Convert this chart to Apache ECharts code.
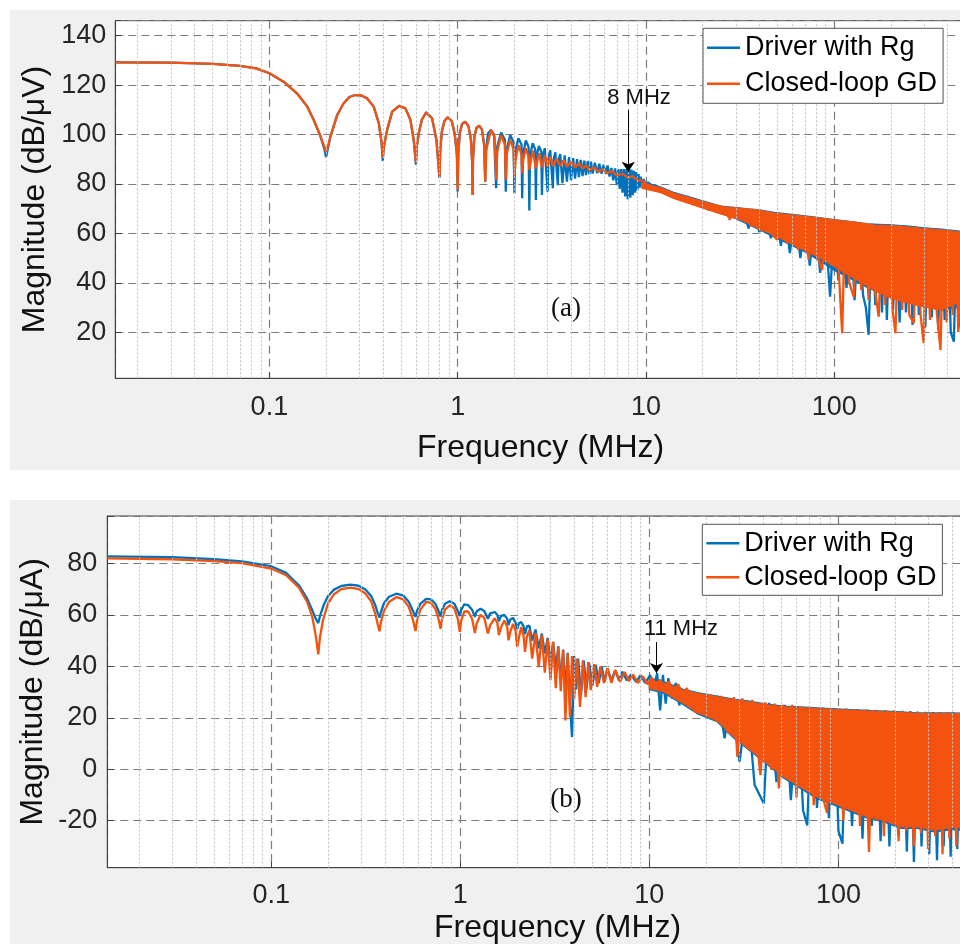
<!DOCTYPE html>
<html><head><meta charset="utf-8">
<script src="https://cdn.jsdelivr.net/npm/echarts@6/dist/echarts.min.js"></script>
<style>html,body{margin:0;padding:0;background:#fff}#c{width:960px;height:944px}</style>
</head><body><div id="c"></div>
<script>
// ---------- tick labels / grid values ----------
const xTickLabels = [0.1, 1, 10, 100];
const minorX = [0.02,0.03,0.04,0.05,0.06,0.07,0.08,0.09,0.2,0.3,0.4,0.5,0.6,0.7,0.8,0.9,2,3,4,5,6,7,8,9,20,30,40,50,60,70,80,90,200,300,400,500,600,700];
const seriesNames = ['Driver with Rg', 'Closed-loop GD'];

// ---------- panel (a): [frequency MHz, dB/uV] ----------
const aBlue = [[0.0152,129.2],[0.03,129.1],[0.05,128.6],[0.07,127.8],[0.085,126.8],[0.1,124.8],[0.119,121.4],[0.14,116.7],[0.159,111.3],[0.172,105.9],[0.187,99.2],[0.196,94],[0.2,90.8],[0.204,94],[0.211,99.2],[0.229,107.9],[0.248,112.7],[0.266,115.2],[0.286,116.0],[0.308,115.8],[0.33,114.7],[0.358,111.3],[0.381,104.6],[0.394,97],[0.4,89.3],
[0.405,95],[0.422,101.9],[0.449,109.3],[0.489,111.6],[0.528,110.6],[0.561,105.9],[0.584,97.8],[0.6,87.8],
[0.606,95],[0.621,100.5],[0.645,106],[0.68,109],[0.731,106.6],[0.771,97.8],[0.8,82.5],
[0.808,94],[0.825,101.5],[0.85,105.5],[0.885,107],[0.93,105.5],[0.965,100],[0.99,92],[1.0,77],
[1.007,92],[1.025,100.5],[1.055,104.3],[1.095,105.2],[1.14,103.5],[1.175,98],[1.195,88],[1.2,75.6],
[1.206,90],[1.225,99],[1.26,102.8],[1.3,103.6],[1.345,102],[1.38,96],[1.4,80.9],
[1.41,93],[1.45,100.5],[1.5,101.9],[1.56,100],[1.6,78.3],
[1.62,95],[1.7,100.8],[1.78,98],[1.8,76.9],
[1.82,94],[1.9,99.8],[1.98,97],[2.0,76.3],
[2.02,93],[2.1,98.5],[2.18,96],[2.2,74.2],
[2.22,92],[2.3,97.6],[2.38,95],[2.4,69.3],
[2.42,91],[2.5,96.5],[2.58,94],[2.6,73.5],
[2.62,91],[2.7,95.4],[2.78,93],[2.8,75.6],
[2.83,91],[2.9,94.5],[3.0,76.9],[3.03,90.5],[3.1,93.6],[3.2,78.3],[3.23,90],[3.3,92.8],[3.4,79.5],[3.43,89.5],[3.5,92.1],[3.6,80.3],
[3.7,91.6],[3.8,81.0],[3.9,90.9],[4.0,81.6],[4.1,90.5],[4.2,82.2],[4.3,90.1],[4.4,82.8],[4.5,89.8],[4.6,83.2],[4.7,89.5],[4.8,83.6],[4.9,89.3],[5.0,83.9],[5.1,89.0],[5.2,84.2],[5.35,88.6],[5.5,84.4],[5.65,88.2],[5.8,84.2],[5.95,87.8],[6.1,84.0],[6.25,87.5],[6.4,83.0],[6.55,86.5],[6.7,81.5],[6.85,86.3],[7.0,79.5],[7.12,86],[7.25,78],[7.37,86],[7.5,76.5],[7.62,86],[7.75,75],[7.87,86],[8.0,73.8],[8.12,86],[8.25,74.5],[8.37,85.8],[8.5,75.5],[8.62,85.3],[8.75,76.5],[8.87,84.8],[9.0,77.5],[9.12,84],[9.25,78.5],[9.37,83],[9.5,79.5],[9.7,82],[9.9,80.3],
[10.3,80.6],[10.8,78.8],[11.4,79.2],[12,77.2],[12.7,77.6],[13.4,75.8],[14.2,76.3],[15,74.6],[16,75],[17,72.8],[18,73.8],[19,71.5],[20,72.8],[21.5,69.5],[23,71.6],[24.5,68.5],[26,70.8],[27.5,66.5],[29,70.6],[31,65.5],[33,70],[35,62],[37,69.5],[40,60.5],[43,68.8],[46,58],[49,68.5],[52,55],[55,67.8],[58,52],[62,67.5],[66,50],[70,67],[74,47],[79,66.5],[84,44],[89,66],[94.9,34.4],[100,65.6],[105,41],[110,65],[116,38],[122,64.6],[128,33],[135,64.2],[142,35],[147,30],[152,19],[158,63.9],[165,31],[172,63.7],[179,28],[185,63.6],[190,25],[197,63.5],[205,29],[213,63.4],[222,24],[231,63.2],[240,28],[250,63],[260,23],[270,62.8],[281,27],[292,62.5],[304,22],[316,62.2],[329,26],[342,62],[356,21],[370,61.7],[385,25],[400,61.5],[415,20],[431,16.2],[446,61.2],[462,22],[480,61],[500,28]];

const aOrange = [[0.0152,129.2],[0.03,129.1],[0.05,128.6],[0.07,127.8],[0.085,126.8],[0.1,124.8],[0.119,121.4],[0.14,116.7],[0.159,111.3],[0.172,105.9],[0.187,99.2],[0.196,95],[0.2,92.8],[0.204,95],[0.211,99.2],[0.229,107.9],[0.248,112.7],[0.266,115.2],[0.286,116.0],[0.308,115.8],[0.33,114.7],[0.358,111.3],[0.381,104.6],[0.394,97],[0.4,90.8],
[0.405,95],[0.422,101.9],[0.449,109.3],[0.489,111.6],[0.528,110.6],[0.561,105.9],[0.584,97.8],[0.6,88.5],
[0.606,95],[0.621,100.5],[0.645,106],[0.68,109],[0.731,106.6],[0.771,97.8],[0.8,82.8],
[0.808,94],[0.825,101.5],[0.85,105.5],[0.885,107],[0.93,105.5],[0.965,100],[0.99,92],[1.0,77.6],
[1.007,92],[1.025,100.5],[1.055,104.3],[1.095,105.2],[1.14,103.5],[1.175,98],[1.195,88],[1.2,75.6],
[1.206,90],[1.225,99],[1.26,102.8],[1.3,103.6],[1.345,102],[1.38,96],[1.4,80.9],
[1.42,94],[1.5,101.9],[1.57,99],[1.6,81.6],
[1.62,93],[1.7,99.8],[1.78,96],[1.8,81.8],
[1.82,92],[1.9,98],[1.98,94],[2.0,82.5],
[2.03,90],[2.1,95.8],[2.18,92],[2.2,84.3],
[2.23,90],[2.3,94.5],[2.38,91],[2.4,85.7],
[2.5,93.6],[2.6,86.4],[2.7,92.5],[2.8,86.8],[2.9,91.7],[3.0,87.1],[3.1,91.1],[3.2,87.2],[3.35,90.3],[3.5,87.3],[3.65,89.6],[3.8,87.0],[4.0,89.0],[4.2,86.6],[4.4,88.4],[4.6,86.2],[4.8,87.6],[5.0,85.6],[5.3,86.8],[5.6,85.0],[5.9,86.0],[6.2,84.4],[6.6,85.2],[7.0,83.4],[7.5,84.2],[8.0,82.6],[8.5,83.2],[9.0,81.4],[9.5,81.6],[10,80],
[10.4,79.5],[11,78],[11.6,78.4],[12.3,76.5],[13,76.8],[13.8,75.2],[14.6,75.5],[15.5,73.8],[16.5,74.3],[17.5,72.3],[18.6,73.3],[19.8,71.2],[21,72.3],[22.4,69.6],[24,71.2],[25.5,68.2],[27,70.6],[27.8,65.5],[29.5,70.3],[31.5,66],[33.5,70],[36,63],[38.5,69.4],[41,61],[44,68.8],[47,59.5],[49.7,57.4],[52.5,68.2],[56,56],[60,67.6],[64,53.5],[68,67.2],[73.1,49.3],[78,66.8],[82,50],[86.1,45.2],[90,66.2],[96,47],[101,65.6],[106,42],[110,19.6],[114,65.2],[120,40],[126.7,34.4],[133,64.6],[139,37],[145,64.3],[152,33],[158,64],[165,36],[172,26.3],[179,63.6],[186,31],[194,63.4],[203,30],[211,19.6],[220,63.2],[229,29],[238,63],[250,27],[264,23.7],[275,62.7],[287,27],[298,15.6],[310,62.3],[322,25],[335,62],[350,28],[366,12.9],[380,61.5],[395,24],[410,61.2],[425,27],[440,61],[455,20],[472,60.8],[488,25],[500,40]];

// dense noise bands: [frequency, lower edge, upper edge]
const aBlueBand = [[10,79,80.6],[12,77,78.8],[14,75,76.6],[17,72.5,74.8],[20,70.5,73.2],[25,68,71.1],[30,66,70.5],[35,63.5,69.9],[40,61.5,69.5],[48,58.5,68.5],[58,55.5,67.8],[70,52.5,67.1],[85,48.5,66.3],[100,45,65.6],[120,42,64.9],[150,38,63.9],[200,34,63.5],[250,32,63],[300,30.5,62.3],[370,29,61.8],[450,30,61],[500,31,60.8]];
const aOrangeBand = [[9.5,78.3,80.3],[12,76.5,78.5],[14,74.2,76.3],[17,72,74.5],[20,70.2,72.9],[26,67.5,70.8],[32,65.5,70.2],[39,62.1,69.5],[48,59.4,68.2],[58,56,67.5],[72,52.6,66.8],[88,49.3,66],[107,45.2,65.2],[132,41.2,64.5],[162,37.1,63.4],[199,33.9,63.2],[244,31.9,62.7],[296,30.4,62],[366,29,61.5],[448,31.9,60.7],[500,32,60.5]];

// ---------- panel (b): [frequency MHz, dB/uA] ----------
const bBlue = [[0.0136,82.75],[0.03,82.4],[0.05,81.6],[0.07,80.8],[0.1,78.9],[0.12,76.3],[0.14,71.5],[0.155,66.3],[0.165,61.8],[0.172,58.5],[0.1775,56.8],[0.182,60],[0.19,64],[0.2,67.3],[0.215,69.8],[0.235,71.2],[0.263,71.7],[0.29,71.3],[0.315,69.8],[0.338,67.3],[0.355,63.8],[0.367,60.5],[0.374,58.9],
[0.38,61],[0.395,64.5],[0.42,67],[0.46,68.2],[0.5,67.5],[0.535,65],[0.56,61.8],[0.58,59.2],
[0.59,61.5],[0.615,64.3],[0.66,66.2],[0.7,66],[0.74,64.2],[0.77,61.2],[0.787,59.3],
[0.8,61.8],[0.83,64.3],[0.88,65.3],[0.93,64.3],[0.97,61.5],[0.995,59.5],
[1.01,61.8],[1.05,64.1],[1.1,63.8],[1.155,62],[1.195,59.2],
[1.22,61.3],[1.28,62.4],[1.34,61.5],[1.4,58.5],[1.44,60.6],[1.52,61.1],[1.57,60],[1.6,57.5],[1.64,59.5],[1.71,60],[1.77,58.5],[1.8,56],[1.84,58.2],[1.9,58.8],[1.96,57],[2.0,54.5],[2.04,56.6],[2.1,57.2],[2.16,55.5],[2.2,52.5],[2.25,55.5],[2.32,55.8],[2.4,50],[2.5,54.3],[2.6,47],[2.7,52.7],[2.8,45],[2.9,51],[3.0,42],[3.1,49.5],[3.2,39],[3.3,47.8],[3.4,34],[3.5,46.5],[3.6,30],[3.7,45.2],[3.8,26],[3.9,12.5],[4.0,44],[4.1,31],[4.2,43],[4.35,29],[4.5,42.2],[4.65,31],[4.8,41.4],[5.0,32.5],[5.2,40.6],[5.4,33.5],[5.6,39.8],[5.8,34],[6.0,39.2],[6.3,34.5],[6.6,38.5],[6.9,34.5],[7.2,37.9],[7.6,34.5],[8.0,36.8],[8.5,34],[9.0,36.5],[9.5,33.5],[10.1,36.6],[10.5,31],[11.0,37.4],[11.4,22.9],[11.8,36.7],[12.2,25.5],[12.6,35.4],[13.2,27.5],[13.8,33.5],[14.4,24.8],[15,31],[16,26],[17,29.5],[19,28.8],[21,22],[23,28.5],[25,12],[27,27.5],[30,3],[33,26.7],[36,-6],[40.3,-13.3],[43,25.8],[47,-5],[52,25],[56,-12],[61,24.5],[65,-16],[68.4,-21.8],[72,24.2],[77,-15],[83,24],[89,-19],[95,23.8],[100,-24],[105,-28.9],[110,23.6],[118,-22],[126,23.4],[134,-27],[142,23.2],[150,-22],[158,23],[167,-28],[176,22.9],[186,-30],[196,22.8],[207,-26],[218,22.7],[230,-32],[240,22.6],[250.6,-36],[262,22.4],[275,-30],[288,22.3],[302,-33],[316,22.2],[332,-35.4],[346,22.1],[360,-30],[376,22],[392,-34],[408,22],[425,-31],[442,22],[460,-35],[480,22],[500,10]];

const bOrange = [[0.0136,81.9],[0.03,81.6],[0.05,80.9],[0.07,80.1],[0.1,78.0],[0.12,75.4],[0.14,70.6],[0.155,65],[0.165,59.2],[0.172,52],[0.1775,44.6],[0.181,51],[0.188,58],[0.2,64.5],[0.215,68],[0.235,70],[0.263,70.6],[0.29,70],[0.315,68.3],[0.338,65.2],[0.355,60.5],[0.367,56],[0.374,53.6],
[0.38,57],[0.395,61.5],[0.42,65],[0.46,66.9],[0.5,66],[0.535,63],[0.56,58.5],[0.58,53.7],
[0.59,57.5],[0.615,62],[0.66,65],[0.7,64.6],[0.74,62.2],[0.77,58],[0.787,54.6],
[0.8,58],[0.83,62],[0.88,63.7],[0.93,62.5],[0.97,58.5],[0.995,53.4],
[1.01,57.5],[1.05,61.3],[1.1,61.3],[1.155,58.5],[1.195,52.9],
[1.22,56.5],[1.28,60],[1.34,58.8],[1.4,52.7],[1.44,56],[1.52,58.6],[1.57,57],[1.6,52.1],[1.64,55],[1.71,57.8],[1.77,55.5],[1.8,50.1],[1.84,53.5],[1.9,56.5],[1.96,54],[2.0,47.5],[2.04,51],[2.1,55.2],[2.16,52],[2.2,45.6],[2.25,51.5],[2.32,54],[2.4,43],[2.5,53],[2.6,39.7],[2.7,52.1],[2.8,37.5],[2.9,50.5],[3.0,34.6],[3.1,49.5],[3.2,31.5],[3.3,47.5],[3.4,30.3],[3.5,46.2],[3.6,19],[3.7,45],[3.8,20.3],[3.9,44],[4.0,27],[4.15,43],[4.3,24.2],[4.45,42.3],[4.6,28],[4.75,41.6],[4.9,30.7],[5.1,40.8],[5.3,32],[5.5,40],[5.75,33.5],[6.0,39.2],[6.3,33.5],[6.6,38.5],[7.0,34],[7.4,37.8],[7.8,34.2],[8.2,36.8],[8.7,33.5],[9.2,36.2],[9.8,33],[10.3,35.5],[10.8,32.5],[11.4,34.8],[12,31.5],[12.7,34],[13.4,30],[14.2,33],[15,29],[15.8,31.5],[16.5,27],[17.5,22],[18.5,29.5],[19.5,24.5],[21,29],[22.5,18.5],[24,28.5],[26,14],[28,28],[29.2,4.8],[31,27.5],[33,8],[35,27],[38.7,-2.3],[41,26],[44,0],[46,25.5],[48.4,-7.5],[51,25],[54,-4],[57,25],[60,-11],[63,24.5],[66,-8],[70,24.3],[74,-14],[78,24],[82,-10],[87,-17],[91,23.8],[96,-12],[101,23.6],[106,-20],[111,23.5],[117,-14],[123,23.3],[130,-22],[137,23.2],[145,-32.1],[152,23],[159,-20],[166,22.8],[174,-26],[182,22.8],[190,-21],[199,22.6],[208,-28],[218,22.5],[228,-24],[239,22.4],[250,-30],[261,22.2],[273,-25],[285,22.1],[298,-31],[311,22],[325,-26],[340,22],[355,-33],[370,22],[386,-27],[402,21.8],[420,-30],[438,21.8],[455,-28],[472,21.8],[490,-32],[500,10]];

const bBlueBand = [[10,31,35.5],[12,29.5,34],[15.2,25,31],[18,21.5,29.8],[22.8,18.5,28.4],[28,12,27.3],[34.3,7,26.4],[42,1.8,25.3],[51.4,-3.5,24.5],[63,-7.5,24.2],[77,-11.5,23.9],[95,-14,23.5],[116,-16.5,23.2],[142,-19,22.9],[174,-20.5,22.6],[213,-23,22.3],[261,-23,21.9],[320,-24.3,21.9],[400,-23.5,21.9],[500,-24,21.8]];
const bOrangeBand = [[10,31.5,34.5],[12,30,33.5],[15.2,25.5,30.7],[18,22,29.5],[22.8,19,28.1],[28,12.5,27],[34.3,7.4,26.1],[42,2.2,25],[51.4,-3,24.2],[63,-6.9,23.9],[77,-10.8,23.6],[95,-13.3,23.2],[116,-15.9,22.9],[142,-18.5,22.6],[174,-19.8,22.3],[213,-22.4,22],[261,-22.4,21.6],[320,-23.7,21.6],[400,-22.5,21.6],[500,-23,21.5]];

// annotation arrows (data coordinates: frequency, from, to)
const arrowA = [8.05, 110, 85];
const arrowB = [10.9, 49.4, 37.4];

// ---------- build chart ----------
const FONT = '"Liberation Sans", Arial, Helvetica, sans-serif';
const BLUE = '#0072BD', ORANGE = '#F4530F';
const chart = echarts.init(document.getElementById('c'), null, {renderer: 'canvas'});

function xFmt(v) {
  for (const t of xTickLabels) if (Math.abs(v - t) / t < 1e-6) return String(t);
  return '';
}
function yFmt(v) {
  const r = Math.round(v / 20) * 20;
  return Math.abs(v - r) < 1e-6 ? String(r) : '';
}
function xAxisCfg(gi, min, max, nameGap, margin) {
  return {
    type: 'log', logBase: 10, gridIndex: gi, min, max,
    name: 'Frequency (MHz)', nameLocation: 'middle', nameGap, nameMoveOverlap: false,
    nameTextStyle: {fontSize: 32, color: '#111', fontFamily: FONT},
    axisLine: {onZero: false, lineStyle: {color: '#404040', width: 1}},
    axisTick: {inside: true, length: 6, lineStyle: {color: '#404040'}},
    axisLabel: {fontSize: 27, color: '#262626', fontFamily: FONT, margin, formatter: xFmt, showMinLabel: true, showMaxLabel: true, hideOverlap: false},
    splitLine: {show: true, lineStyle: {color: '#7c7c7c', type: [8, 5], width: 1.2}},
    minorTick: {show: false}, minorSplitLine: {show: false}
  };
}
function yAxisCfg(gi, min, max, name, nameGap, margin) {
  return {
    type: 'value', gridIndex: gi, min, max, splitNumber: 7,
    name, nameLocation: 'middle', nameGap, nameMoveOverlap: false,
    nameTextStyle: {fontSize: 32, color: '#111', fontFamily: FONT},
    axisLine: {show: true, onZero: false, lineStyle: {color: '#404040', width: 1}},
    axisTick: {show: true, inside: true, length: 6, lineStyle: {color: '#404040'}},
    axisLabel: {fontSize: 27, color: '#262626', fontFamily: FONT, margin, formatter: yFmt, hideOverlap: false},
    splitLine: {show: true, lineStyle: {color: '#7c7c7c', type: [8, 5], width: 1.2}}
  };
}
function gridHelper(gi) {
  return {
    type: 'line', xAxisIndex: gi, yAxisIndex: gi, data: [[1, -1000]], symbol: 'none', silent: true,
    lineStyle: {opacity: 0}, z: 1,
    markLine: {silent: true, symbol: 'none', animation: false, label: {show: false},
      lineStyle: {color: '#c4c4c4', type: [2, 2], width: 1},
      data: minorX.map(v => ({xAxis: v}))}
  };
}
function lineS(name, data, color, gi) {
  return {type: 'line', name, data, xAxisIndex: gi, yAxisIndex: gi, symbol: 'none', showSymbol: false,
    lineStyle: {color, width: 2.3}, itemStyle: {color}, z: 2, silent: true};
}
function arrowS(gi, a) {
  return {
    type: 'line', xAxisIndex: gi, yAxisIndex: gi, data: [[1, -1000]], symbol: 'none', silent: true,
    lineStyle: {opacity: 0}, z: 5,
    markLine: {silent: true, symbol: ['none', 'arrow'], symbolSize: 10, animation: false, label: {show: false},
      lineStyle: {color: '#000', type: 'solid', width: 1},
      data: [[{coord: [a[0], a[1]]}, {coord: [a[0], a[2]]}]]}
  };
}
function legendCfg(left, top, pad, gap) {
  return {
    data: seriesNames, orient: 'vertical', left, top, padding: pad, itemGap: gap,
    icon: 'rect', itemWidth: 33, itemHeight: 2.5,
    backgroundColor: '#fff', borderColor: '#555', borderWidth: 1,
    textStyle: {fontSize: 27, color: '#000', fontFamily: FONT, lineHeight: 28},
    selectedMode: false, z: 10
  };
}

const baseGraphic = [
  {type: 'rect', shape: {x: 10, y: 10, width: 950, height: 460}, style: {fill: '#f0f0f0'}, z: -100, silent: true},
  {type: 'rect', shape: {x: 10, y: 500, width: 950, height: 444}, style: {fill: '#f0f0f0'}, z: -100, silent: true},
  {type: 'text', x: 639, y: 97.5, z: 100, silent: true, style: {text: '8 MHz', fontSize: 22, fontFamily: FONT, fill: '#111', align: 'center', verticalAlign: 'middle'}},
  {type: 'text', x: 681, y: 629, z: 100, silent: true, style: {text: '11 MHz', fontSize: 22, fontFamily: FONT, fill: '#111', align: 'center', verticalAlign: 'middle'}},
  {type: 'text', x: 566, y: 309, z: 100, silent: true, style: {text: '(a)', fontSize: 27, fontFamily: '"Liberation Serif", "Times New Roman", serif', fill: '#111', align: 'center', verticalAlign: 'middle'}},
  {type: 'text', x: 566, y: 800, z: 100, silent: true, style: {text: '(b)', fontSize: 27, fontFamily: '"Liberation Serif", "Times New Roman", serif', fill: '#111', align: 'center', verticalAlign: 'middle'}}
];

const option = {
  animation: false,
  backgroundColor: '#fff',
  grid: [
    {left: 115.3, top: 20.7, width: 850.7, height: 357.6, show: true, backgroundColor: '#fff', borderColor: '#404040', borderWidth: 1, containLabel: false, outerBoundsMode: 'none'},
    {left: 107.3, top: 516, width: 900.7, height: 351.7, show: true, backgroundColor: '#fff', borderColor: '#404040', borderWidth: 1, containLabel: false, outerBoundsMode: 'none'}
  ],
  xAxis: [xAxisCfg(0, 0.0152, 500, 54, 16), xAxisCfg(1, 0.0136, 788, 44.5, 14.5)],
  yAxis: [yAxisCfg(0, 1.39, 146.07, 'Magnitude (dB/μV)', 64, 9), yAxisCfg(1, -38.26, 98.4, 'Magnitude (dB/μA)', 58, 10)],
  legend: [legendCfg(703, 28.3, [5.5, 6, 5.5, 4], 8), legendCfg(702.3, 524.3, [5, 6, 4, 4], 6)],
  graphic: baseGraphic,
  series: [
    gridHelper(0), gridHelper(1),
    lineS(seriesNames[0], aBlue, BLUE, 0),
    lineS(seriesNames[1], aOrange, ORANGE, 0),
    lineS(seriesNames[0], bBlue, BLUE, 1),
    lineS(seriesNames[1], bOrange, ORANGE, 1),
    arrowS(0, arrowA), arrowS(1, arrowB)
  ]
};
chart.setOption(option);

// filled noise bands: polygons placed through the chart's own axes (convertToPixel)
function bandPolygon(band, color, gi, z) {
  const pts = band.map(r => chart.convertToPixel({gridIndex: gi}, [r[0], r[2]]));
  for (let i = band.length - 1; i >= 0; i--) pts.push(chart.convertToPixel({gridIndex: gi}, [band[i][0], band[i][1]]));
  return {type: 'polygon', shape: {points: pts}, style: {fill: color, stroke: color, lineWidth: 1.2}, z, silent: true};
}
chart.setOption({graphic: baseGraphic.concat([
  bandPolygon(aBlueBand, BLUE, 0, 1.5),
  bandPolygon(bBlueBand, BLUE, 1, 1.5),
  bandPolygon(aOrangeBand, ORANGE, 0, 2.5),
  bandPolygon(bOrangeBand, ORANGE, 1, 2.5)
])});
</script>
</body></html>
